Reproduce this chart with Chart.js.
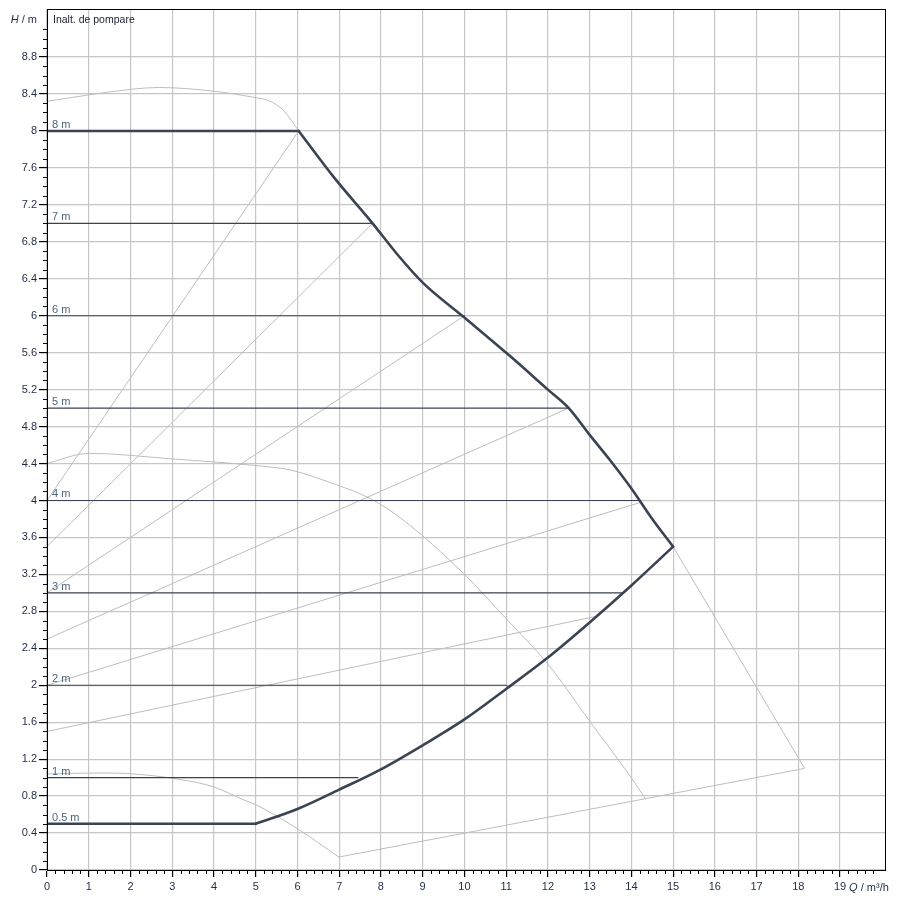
<!DOCTYPE html>
<html>
<head>
<meta charset="utf-8">
<script src="https://cdn.jsdelivr.net/npm/chart.js@4.4.0/dist/chart.umd.min.js"></script>
<style>
  html, body { margin: 0; padding: 0; background: #fff; }
  #wrap { width: 900px; height: 900px; position: relative; }
</style>
</head>
<body>
<div id="wrap"><canvas id="c"></canvas></div>
<script>
// ---- data ----
// thick control-range boundary
const topFlatQ = [0, 6.03];
const topFlatH = [8, 8];
const upperQ = [6.03, 6.87, 7.8, 8.4, 9.02, 10, 11.1, 12, 12.5, 13, 13.5, 14, 14.5, 15];
const upperH = [8, 7.5, 7, 6.66, 6.35, 5.98, 5.56, 5.2, 5, 4.71, 4.43, 4.13, 3.8, 3.5];
const lowerQ = [5, 6, 7, 8, 9, 10, 11, 12, 13, 14, 15];
const lowerH = [0.5, 0.66, 0.87, 1.09, 1.35, 1.63, 1.96, 2.3, 2.68, 3.08, 3.5];
const bottomFlatQ = [0, 5];
const bottomFlatH = [0.5, 0.5];

// constant-head lines (label, head, end flow)
const levelLabels = ['8 m', '7 m', '6 m', '5 m', '4 m', '3 m', '2 m', '1 m', '0.5 m'];
const levelHeads  = [8, 7, 6, 5, 4, 3, 2, 1, 0.5];
const levelEndQ   = [6.03, 7.8, 10, 12.5, 14.22, 13.78, 11.02, 7.45, 5];

// pump curves (grey)
const maxCurveQ = [0, 1, 2, 2.7, 4, 5, 5.3, 5.67, 6.03];
const maxCurveH = [8.32, 8.39, 8.45, 8.47, 8.43, 8.36, 8.33, 8.22, 8.0];
const midCurveQ = [0, 1, 3, 4.95, 5.83, 6.87, 7.75, 8.5, 9.98, 11.02, 11.98, 13.1, 13.98, 14.34];
const midCurveH = [4.4, 4.51, 4.45, 4.38, 4.33, 4.18, 4.02, 3.8, 3.21, 2.71, 2.24, 1.55, 1.01, 0.77];
const minCurveQ = [0, 1.27, 2.07, 3.19, 3.99, 4.71, 5.03, 5.99, 6.99];
const minCurveH = [1.04, 1.05, 1.04, 0.98, 0.9, 0.76, 0.7, 0.45, 0.14];

// straight grey lines (start head at Q=0 -> end point)
const fanStartH = [4, 3.5, 3, 2.5, 2, 1.5];
const fanEndQ   = [6.03, 7.8, 10, 12.5, 14.22, 13.2];
const fanEndH   = [8, 7, 6, 5, 3.98, 2.75];

// outer limit polyline
const limitQ = [6.99, 18.15, 15];
const limitH = [0.14, 1.1, 3.5];

// axis
const xMax = 20.1, yMax = 9.32;
const xLabelStep = 1, yLabelStep = 0.4;
const xMinorStep = 0.2, yMinorStep = 0.1;

// ---- build ----
const pts = (qs, hs) => qs.map((q, i) => ({ x: q, y: hs[i] }));
const DARK = '#3a4352';
const GREY = '#bdbdbd';
const FONT = 'Liberation Sans, Arial, sans-serif';

const datasets = [];
datasets.push({ data: pts(topFlatQ, topFlatH), borderColor: DARK, borderWidth: 2.6, tension: 0 });
datasets.push({ data: pts(upperQ, upperH), borderColor: DARK, borderWidth: 2.6, cubicInterpolationMode: 'monotone' });
datasets.push({ data: pts(lowerQ, lowerH), borderColor: DARK, borderWidth: 2.6, cubicInterpolationMode: 'monotone' });
datasets.push({ data: pts(bottomFlatQ, bottomFlatH), borderColor: DARK, borderWidth: 2.6, tension: 0 });
levelHeads.forEach((h, i) => {
  if (h === 8 || h === 0.5) return;
  datasets.push({ data: [{ x: 0, y: h }, { x: levelEndQ[i], y: h }], borderColor: DARK, borderWidth: 1.1, tension: 0 });
});
datasets.push({ data: pts(maxCurveQ, maxCurveH), borderColor: GREY, borderWidth: 1, cubicInterpolationMode: 'monotone' });
datasets.push({ data: pts(midCurveQ, midCurveH), borderColor: GREY, borderWidth: 1, cubicInterpolationMode: 'monotone' });
datasets.push({ data: pts(minCurveQ, minCurveH), borderColor: GREY, borderWidth: 1, cubicInterpolationMode: 'monotone' });
fanStartH.forEach((h, i) => {
  datasets.push({ data: [{ x: 0, y: h }, { x: fanEndQ[i], y: fanEndH[i] }], borderColor: GREY, borderWidth: 1, tension: 0 });
});
datasets.push({ data: pts(limitQ, limitH), borderColor: GREY, borderWidth: 1, tension: 0 });
datasets.forEach(d => { d.pointRadius = 0; d.fill = false; d.borderJoinStyle = 'round'; d.borderCapStyle = 'round'; });

const isMult = (v, s) => Math.abs(v / s - Math.round(v / s)) < 1e-6;

const decor = {
  id: 'decor',
  afterDatasetsDraw(chart) {
    const { ctx, chartArea: a, scales: { x, y } } = chart;
    ctx.save();
    // frame
    ctx.strokeStyle = '#000';
    ctx.lineWidth = 1;
    ctx.strokeRect(a.left + 0.5, a.top + 0.5, a.right - a.left - 1, a.bottom - a.top);
    // minor ticks
    ctx.beginPath();
    for (let k = 0; k * xMinorStep <= 20 + 1e-9; k++) {
      const v = k * xMinorStep;
      if (isMult(v, xLabelStep)) continue;
      const px = Math.round(x.getPixelForValue(v)) + 0.5;
      ctx.moveTo(px, a.bottom); ctx.lineTo(px, a.bottom + 4);
    }
    for (let k = 0; k * yMinorStep <= 9.2 + 1e-9; k++) {
      const v = k * yMinorStep;
      if (isMult(v, yLabelStep)) continue;
      const py = Math.round(y.getPixelForValue(v)) + 0.5;
      ctx.moveTo(a.left - 4, py); ctx.lineTo(a.left, py);
    }
    ctx.stroke();
    // level labels
    ctx.fillStyle = '#4a6682';
    ctx.font = '11px ' + FONT;
    ctx.textAlign = 'left';
    ctx.textBaseline = 'alphabetic';
    levelLabels.forEach((t, i) => {
      ctx.fillText(t, x.getPixelForValue(0.12), y.getPixelForValue(levelHeads[i]) - 3);
    });
    // title
    ctx.fillStyle = '#1a1f2e';
    ctx.font = '10.5px ' + FONT;
    ctx.textBaseline = 'middle';
    ctx.fillText('Inalt. de pompare', a.left + 6, y.getPixelForValue(9.2));
    // axis titles
    ctx.fillStyle = '#1f2a44';
    ctx.font = '11px ' + FONT;
    const hy = y.getPixelForValue(9.2);
    ctx.textAlign = 'right';
    const rest = ' / m';
    ctx.fillText(rest, 37, hy);
    const rw = ctx.measureText(rest).width;
    ctx.font = 'italic 11px ' + FONT;
    ctx.fillText('H', 37 - rw, hy);
    ctx.textAlign = 'left';
    const qy = 888;
    let qx = x.getPixelForValue(19) + 9;
    ctx.font = 'italic 11px ' + FONT;
    ctx.fillText('Q', qx, qy);
    qx += ctx.measureText('Q').width;
    ctx.font = '11px ' + FONT;
    ctx.fillText(' / m³/h', qx, qy);
    ctx.restore();
  }
};

new Chart(document.getElementById('c'), {
  type: 'line',
  data: { datasets },
  options: {
    responsive: true,
    maintainAspectRatio: false,
    animation: false,
    layout: { padding: { top: 9, right: 14, left: 0, bottom: 0 } },
    plugins: { legend: { display: false }, tooltip: { enabled: false } },
    scales: {
      x: {
        type: 'linear', min: 0, max: xMax,
        afterFit(s) { s.height = 30; },
        afterBuildTicks(s) { s.ticks = s.ticks.filter(t => isMult(t.value, xLabelStep) && t.value <= 20); },
        ticks: {
          stepSize: xLabelStep, autoSkip: false, maxRotation: 0, padding: 3,
          color: '#1f2a44', font: { family: FONT, size: 11 },
          callback: v => (Math.round(v) === 20 ? '' : String(Math.round(v)))
        },
        grid: { color: '#c6c6c6', lineWidth: 1.2, tickColor: '#000', tickLength: 7, drawTicks: true },
        border: { color: '#000', width: 1 }
      },
      y: {
        type: 'linear', min: 0, max: yMax,
        afterFit(s) { s.width = 47; },
        afterBuildTicks(s) { s.ticks = s.ticks.filter(t => isMult(t.value, yLabelStep) && t.value <= 9.2 + 1e-6); },
        ticks: {
          stepSize: yLabelStep, autoSkip: false, padding: 2,
          color: '#1f2a44', font: { family: FONT, size: 11 },
          callback: v => (Math.abs(v - 9.2) < 1e-6 ? '' : String(Number(v.toFixed(1))))
        },
        grid: { color: '#c6c6c6', lineWidth: 1.2, tickColor: '#000', tickLength: 8, drawTicks: true },
        border: { color: '#000', width: 1 }
      }
    }
  },
  plugins: [decor]
});
</script>
</body>
</html>
